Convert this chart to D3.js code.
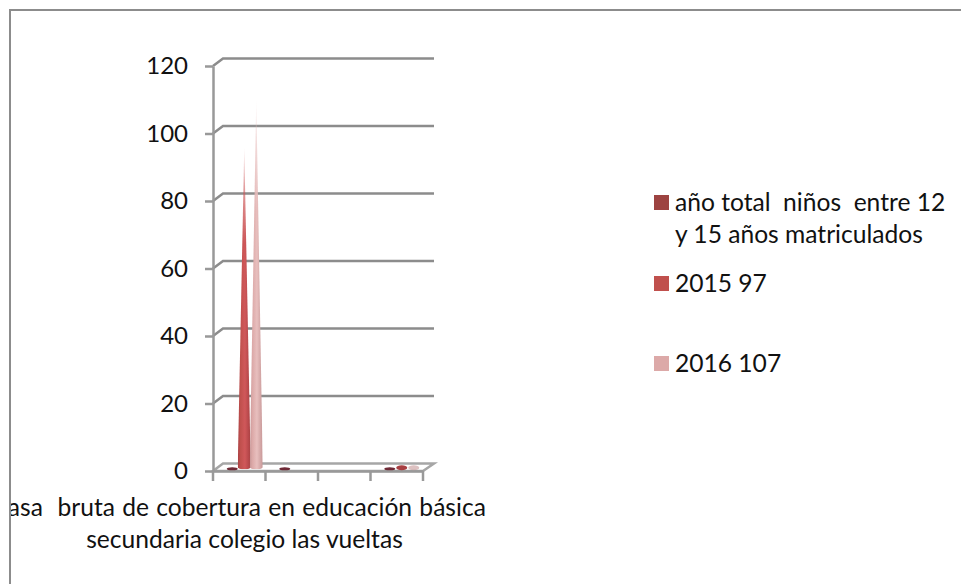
<!DOCTYPE html>
<html>
<head>
<meta charset="utf-8">
<script src="https://cdnjs.cloudflare.com/ajax/libs/d3/7.8.5/d3.min.js"></script>
<style>
    html, body { margin: 0; padding: 0; background: #fff; }
    svg { display: block; }
    text { font-family: Lato, "Open Sans", sans-serif; fill: #111; white-space: pre; }
</style>
</head>
<body>
<div id="chart"></div>
<script>
const categories = ["cat1", "cat2", "cat3", "cat4"];
const seriesNames = ["año total  niños  entre 12 y 15 años matriculados", "2015 97", "2016 107"];
const seriesYear = [0, 0, null, 0];
const series2015 = [95, null, null, 0.6];
const series2016 = [109, null, null, 0.6];
const yTicks = [0, 20, 40, 60, 80, 100, 120];
const titleLines = ["Tasa  bruta de cobertura en educación básica", "secundaria colegio las vueltas"];
const legendLines = [["año total  niños  entre 12", "y 15 años matriculados"], ["2015 97"], ["2016 107"]];
const colors = ["#9d4341", "#c0504d", "#dca9a8"];
const edgeColors = ["#6f2a36", "#a83f42", "#c79797"];
const lightColors = ["#8f3a45", "#d0585a", "#e8bfbe"];

let width = 961;
let height = 584;
let depthX = 10;
let depthY = 7.5;
let fontSize = "24.6px";

let svg = d3.select("#chart").append("svg")
    .attr("width", width)
    .attr("height", height);

let defs = svg.append("defs");

let y = d3.scaleLinear().domain([0, 120]).range([471, 66]);
let x = d3.scaleBand().domain(categories).range([213, 423]);
let xInner = d3.scaleBand().domain(d3.range(3)).range([x.bandwidth() / 2 - 18, x.bandwidth() / 2 + 18]);

// fade of the cone tips
let fade = defs.append("linearGradient").attr("id", "fade")
    .attr("x1", 0).attr("y1", 0).attr("x2", 0).attr("y2", 1);
fade.append("stop").attr("offset", "0").attr("stop-color", "#fff").attr("stop-opacity", 0.1);
fade.append("stop").attr("offset", "0.13").attr("stop-color", "#fff").attr("stop-opacity", 0.6);
fade.append("stop").attr("offset", "0.3").attr("stop-color", "#fff").attr("stop-opacity", 1);
defs.append("mask").attr("id", "fadeMask")
    .attr("maskContentUnits", "objectBoundingBox")
    .append("rect").attr("width", 1).attr("height", 1).attr("fill", "url(#fade)");

colors.forEach(function (c, i) {
    let g = defs.append("linearGradient").attr("id", "cone" + i);
    g.append("stop").attr("offset", "0").attr("stop-color", edgeColors[i]);
    g.append("stop").attr("offset", "0.2").attr("stop-color", c);
    g.append("stop").attr("offset", "0.55").attr("stop-color", lightColors[i]);
    g.append("stop").attr("offset", "1").attr("stop-color", edgeColors[i]);
});

defs.append("clipPath").attr("id", "frameClip")
    .append("rect").attr("x", 10).attr("y", 0).attr("width", width).attr("height", height);

// floor
let floorY = y(0);
svg.append("path")
    .attr("d", "M" + x.range()[0] + "," + floorY + "L" + (x.range()[0] + depthX) + "," + (floorY - depthY) +
        "L" + (x.range()[1] + depthX + 1) + "," + (floorY - depthY) + "L" + x.range()[1] + "," + floorY + "Z")
    .attr("fill", "#fff")
    .attr("stroke", "#a6a6a6")
    .attr("stroke-width", 2.5);

// gridlines on the side and back walls
svg.selectAll(".grid")
    .data(yTicks.slice(1))
    .enter().append("path")
    .attr("class", "grid")
    .attr("d", d => "M" + x.range()[0] + "," + y(d) + "L" + (x.range()[0] + depthX) + "," + (y(d) - depthY) +
        "L" + (x.range()[1] + depthX + 1) + "," + (y(d) - depthY))
    .attr("fill", "none")
    .attr("stroke", "#8c8c8c")
    .attr("stroke-width", 2.5);

// axes
let yAxis = svg.append("g")
    .attr("transform", "translate(" + x.range()[0] + ",0)")
    .call(d3.axisLeft(y).tickValues(yTicks).tickSize(8).tickSizeOuter(0).tickPadding(17));
yAxis.selectAll("text").style("font-size", "24px");
let xAxis = svg.append("g")
    .attr("transform", "translate(0," + y(0) + ")")
    .call(d3.axisBottom(x).tickSize(10).tickFormat("").tickSizeOuter(0));
xAxis.selectAll(".tick").remove();
xAxis.selectAll(".edge")
    .data(d3.range(categories.length + 1))
    .enter().append("line")
    .attr("x1", i => x.range()[0] + i * x.step())
    .attr("x2", i => x.range()[0] + i * x.step())
    .attr("y1", 0)
    .attr("y2", 10);
svg.selectAll(".domain, .tick line, g line")
    .attr("stroke", "#999999")
    .attr("stroke-width", 2.5);

// cones, one per value
let coneData = [];
[seriesYear, series2015, series2016].forEach(function (values, s) {
    values.forEach(function (v, c) {
        if (v !== null) coneData.push({ category: categories[c], series: s, value: v });
    });
});

function coneX(d) {
    return x(d.category) + xInner(d.series) + xInner.bandwidth() / 2 + depthX / 2;
}

function conePath(d) {
    let cx = coneX(d);
    let base = y(0) - depthY / 2;
    let tip = base - (y(0) - y(d.value));
    let r = 6.5;
    return "M" + (cx - r) + "," + base + "L" + cx + "," + tip + "L" + (cx + r) + "," + base +
        "A" + r + ",2 0 0 1 " + (cx - r) + "," + base + "Z";
}

// the tall cones
svg.selectAll(".cone")
    .data(coneData.filter(d => d.value > 5))
    .enter().append("path")
    .attr("class", "cone")
    .attr("d", conePath)
    .attr("fill", d => "url(#cone" + d.series + ")")
    .attr("mask", "url(#fadeMask)");

// the values near zero only show their base
svg.selectAll(".coneBase")
    .data(coneData.filter(d => d.value <= 5))
    .enter().append("ellipse")
    .attr("class", "coneBase")
    .attr("cx", coneX)
    .attr("cy", d => y(0) - depthY / 2 + 1.5 - (y(0) - y(d.value)) / 2)
    .attr("rx", 5.5)
    .attr("ry", d => 1.6 + (y(0) - y(d.value)) / 2)
    .attr("fill", d => edgeColors[d.series])
    .attr("opacity", d => d.series == 2 ? 0.6 : 1);

// category title, cut by the frame on the left
svg.append("g")
    .attr("clip-path", "url(#frameClip)")
    .selectAll("text")
    .data(titleLines)
    .enter().append("text")
    .attr("x", (d, i) => i == 0 ? 241 : 244.5)
    .attr("y", (d, i) => 516 + i * 32)
    .attr("text-anchor", "middle")
    .style("font-size", fontSize)
    .style("word-spacing", (d, i) => i == 0 ? "1px" : "0")
    .text(d => d);

// legend
let legendTop = [195, 276, 356];
let legend = svg.selectAll(".legend")
    .data(seriesNames)
    .enter().append("g")
    .attr("class", "legend");
legend.append("rect")
    .attr("x", 654)
    .attr("y", (d, i) => legendTop[i])
    .attr("width", 15)
    .attr("height", 15)
    .attr("fill", (d, i) => colors[i]);
legend.each(function (d, i) {
    d3.select(this).selectAll("text")
        .data(legendLines[i])
        .enter().append("text")
        .attr("x", 675)
        .attr("y", (t, j) => legendTop[i] + 16 + j * 32)
        .style("font-size", fontSize)
        .text(t => t);
});

// chart frame, open at the right and bottom of the picture
svg.append("path")
    .attr("d", "M10,584L10,10L961,10")
    .attr("fill", "none")
    .attr("stroke", "#8c8c8c")
    .attr("stroke-width", 2);
</script>
</body>
</html>
